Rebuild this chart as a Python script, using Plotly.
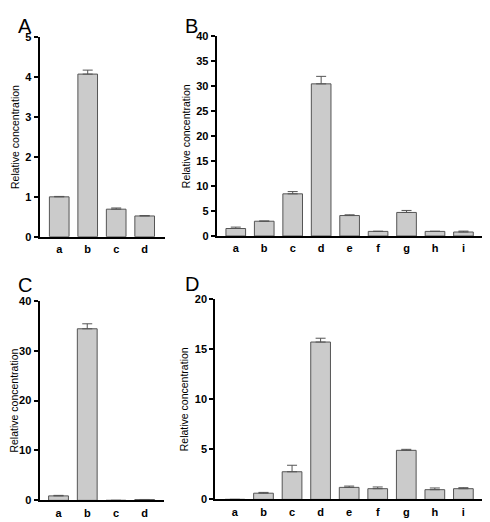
import plotly.graph_objects as go

W, H = 490, 522
OFF = 8  # page body margin in the browser
FW, FH = W - OFF, H - OFF

# ---- data ----
cats_A = ["a", "b", "c", "d"]
vals_A = [1.0, 4.08, 0.69, 0.52]
errs_A = [0.01, 0.10, 0.03, 0.01]

cats_B = ["a", "b", "c", "d", "e", "f", "g", "h", "i"]
vals_B = [1.5, 2.96, 8.45, 30.5, 4.1, 0.92, 4.72, 0.92, 0.8]
errs_B = [0.28, 0.04, 0.45, 1.5, 0.15, 0.03, 0.4, 0.03, 0.18]

cats_C = ["a", "b", "c", "d"]
vals_C = [0.9, 34.4, 0.0, 0.15]
errs_C = [0.1, 1.0, 0.0, 0.03]

cats_D = ["a", "b", "c", "d", "e", "f", "g", "h", "i"]
vals_D = [0.0, 0.62, 2.76, 15.72, 1.2, 1.07, 4.9, 0.97, 1.07]
errs_D = [0.0, 0.08, 0.65, 0.38, 0.13, 0.17, 0.1, 0.17, 0.1]

ticks_A = [0, 1, 2, 3, 4, 5]
ticks_B = [0, 5, 10, 15, 20, 25, 30, 35, 40]
ticks_C = [0, 10, 20, 30, 40]
ticks_D = [0, 5, 10, 15, 20]

def px(x):
    return (x - OFF) / FW

def py(y):
    return 1 - (y - OFF) / FH

panels = [
    # letter, cats, vals, errs, x0, x1, y_top, y_bottom, ymax, yticks, xrange, label pos
    ("A", cats_A, vals_A, errs_A, 31, 159, 32, 236, 5, ticks_A, [-0.69, 3.72], (8, 8)),
    ("B", cats_B, vals_B, errs_B, 211.5, 485, 31, 235.3, 40, ticks_B, [-0.67, 8.76], (178, 8)),
    ("C", cats_C, vals_C, errs_C, 31, 158, 301.7, 506, 40, ticks_C, [-0.66, 3.68], (8, 273)),
    ("D", cats_D, vals_D, errs_D, 210, 485, 300, 505, 20, ticks_D, [-0.69, 8.76], (178, 272)),
]

fig = go.Figure()
FONT = "Liberation Sans, Arial, Helvetica, sans-serif"

for i, (letter, cats, vals, errs, x0, x1, yt, yb, ymax, yt_vals, xr, lab) in enumerate(panels):
    n = i + 1
    xa = "x" if n == 1 else f"x{n}"
    ya = "y" if n == 1 else f"y{n}"
    fig.add_trace(go.Bar(
        x=list(range(len(cats))), y=vals, xaxis=xa, yaxis=ya,
        width=0.69,
        marker=dict(color="#cbcbcb", line=dict(color="#555555", width=1)),
        error_y=dict(type="data", array=errs, arrayminus=[0] * len(errs), symmetric=False,
                     color="#555555", thickness=1, width=5),
        showlegend=False,
    ))
    xkey = "xaxis" if n == 1 else f"xaxis{n}"
    ykey = "yaxis" if n == 1 else f"yaxis{n}"
    fig.update_layout({
        xkey: dict(
            domain=[px(x0), px(x1)], anchor=ya, range=xr,
            tickmode="array", tickvals=list(range(len(cats))),
            ticktext=[f"<b>{c}</b>" for c in cats],
            showline=True, linecolor="black", linewidth=2, ticks="",
            showgrid=False, zeroline=False, ticklabelstandoff=1,
            tickfont=dict(family=FONT, size=11, color="black"),
            fixedrange=True,
        ),
        ykey: dict(
            domain=[py(yb), py(yt)], anchor=xa, range=[0, ymax],
            tickmode="array", tickvals=yt_vals,
            ticktext=[f"<b>{v}</b>" for v in yt_vals],
            showline=True, linecolor="black", linewidth=2,
            ticks="outside", ticklen=4, tickwidth=1.5, tickcolor="black",
            showgrid=False, zeroline=False,
            tickfont=dict(family=FONT, size=11, color="black"),
            title=dict(text="Relative concentration", font=dict(family=FONT, size=10.5, color="black"),
                       standoff=4),
            fixedrange=True,
        ),
    })
    fig.add_annotation(x=px(lab[0]), y=py(lab[1]), xref="paper", yref="paper",
                       xanchor="left", yanchor="top", text=letter, showarrow=False,
                       borderpad=0,
                       font=dict(family=FONT, size=20, color="black"))

fig.update_layout(
    width=FW, height=FH, margin=dict(l=0, r=0, t=0, b=0),
    paper_bgcolor="white", plot_bgcolor="white",
)

fig.write_html("out.html")
